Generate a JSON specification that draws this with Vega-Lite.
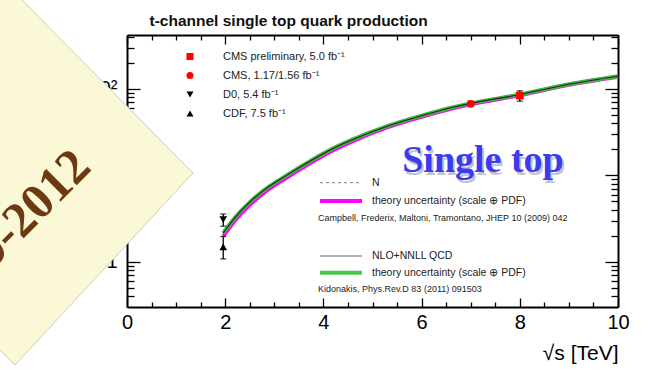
{
  "$schema": "https://vega.github.io/schema/vega-lite/v6.json",
  "width": 491,
  "height": 272,
  "autosize": {"type": "none"},
  "padding": {"left": 127, "top": 35, "right": 40, "bottom": 73},
  "background": "white",
  "config": {
    "view": {"stroke": null},
    "font": "Liberation Sans",
    "axis": {"domainColor": "#000", "domainWidth": 2, "tickColor": "#000", "tickWidth": 1.3, "grid": false, "labelColor": "#000"},
    "legend": {"orient": "none", "legendX": 57.5, "legendY": 16, "padding": 0, "labelFontSize": 11, "labelColor": "#222", "labelFont": "Liberation Sans", "rowPadding": 7, "symbolSize": 49, "labelOffset": 27.5, "labelLimit": 300}
  },
  "datasets": {
    "curve": [
      {"x": 1.96, "campbell": 1.98, "kidonakis": 2.15},
      {"x": 2.2, "campbell": 3.0, "kidonakis": 3.25},
      {"x": 2.5, "campbell": 4.55, "kidonakis": 4.9},
      {"x": 2.8, "campbell": 6.35, "kidonakis": 6.8},
      {"x": 3.2, "campbell": 9.0, "kidonakis": 9.6},
      {"x": 3.7, "campbell": 13.5, "kidonakis": 14.3},
      {"x": 4.2, "campbell": 19.5, "kidonakis": 20.5},
      {"x": 4.6, "campbell": 24.9, "kidonakis": 26},
      {"x": 5.3, "campbell": 35.8, "kidonakis": 37},
      {"x": 6.0, "campbell": 47.6, "kidonakis": 49},
      {"x": 6.6, "campbell": 59, "kidonakis": 60.5},
      {"x": 7.0, "campbell": 66.3, "kidonakis": 68},
      {"x": 8.0, "campbell": 84.5, "kidonakis": 86},
      {"x": 9.0, "campbell": 111.5, "kidonakis": 113},
      {"x": 10.0, "campbell": 138, "kidonakis": 140}
    ],
    "points": [
      {"exp": "CMS preliminary, 5.0 fb⁻¹", "x": 8, "y": 83.6, "lo": 72, "hi": 95},
      {"exp": "CMS, 1.17/1.56 fb⁻¹", "x": 7, "y": 67.2, "lo": 63, "hi": 72},
      {"exp": "D0, 5.4 fb⁻¹", "x": 1.96, "y": 3.07, "lo": 2.58, "hi": 3.57},
      {"exp": "CDF, 7.5 fb⁻¹", "x": 1.96, "y": 1.49, "lo": 1.08, "hi": 1.96}
    ],
    "legendLines": [
      {"item": "nlo", "x": 3.931, "x2": 4.786, "y": 8.22},
      {"item": "band1", "x": 3.931, "x2": 4.786, "y": 5.05},
      {"item": "nnll", "x": 3.931, "x2": 4.786, "y": 1.167},
      {"item": "band2", "x": 3.931, "x2": 4.786, "y": 0.748}
    ],
    "legendLabels": [
      {"x": 4.99, "y": 8.22, "text": "NLO QCD"},
      {"x": 4.99, "y": 5.05, "text": "theory uncertainty (scale  ⊕ PDF)"},
      {"x": 4.99, "y": 1.167, "text": "NLO+NNLL QCD"},
      {"x": 4.99, "y": 0.748, "text": "theory uncertainty (scale  ⊕ PDF)"}
    ],
    "cites": [
      {"x": 3.89, "y": 3.21, "text": "Campbell, Frederix, Maltoni, Tramontano, JHEP 10 (2009) 042"},
      {"x": 3.89, "y": 0.485, "text": "Kidonakis, Phys.Rev.D 83 (2011) 091503"}
    ],
    "box": [{"x": 5.153, "x2": 9.1, "y": 6.6, "y2": 25.6}],
    "banner": [{"x": 7.25, "y": 10.93, "text": "Single top"}],
    "note": [
      {"x": -2.79, "top": 1393, "bottom": 0.1246},
      {"x": -2.342, "top": 1393, "bottom": 0.0694},
      {"x": -2.281, "top": 1285, "bottom": 0.064},
      {"x": 1.344, "top": 10.64, "bottom": 10.64}
    ],
    "noteText": [{"x": -0.692, "y": 11.84, "text": "2009-2012"}]
  },
  "resolve": {"axis": {"x": "independent", "y": "independent"}},
  "layer": [
    {
      "data": {"name": "curve"},
      "mark": {"type": "line", "color": "#ff00ff", "strokeWidth": 4, "interpolate": "monotone"},
      "encoding": {
        "x": {"field": "x", "type": "quantitative", "scale": {"type": "linear", "domain": [0, 10], "nice": false, "zero": false},
              "axis": {"orient": "bottom", "values": [0, 2, 4, 6, 8, 10], "tickSize": -9, "labels": false, "domain": true, "title": null}},
        "y": {"field": "campbell", "type": "quantitative", "scale": {"type": "log", "domain": [0.3, 420], "nice": false},
              "axis": {"orient": "left", "values": [1, 10, 100], "tickSize": -13, "labels": false, "domain": true, "title": null}}
      }
    },
    {
      "data": {"name": "curve"},
      "mark": {"type": "line", "color": "#40b840", "strokeWidth": 4, "interpolate": "monotone"},
      "encoding": {
        "x": {"field": "x", "type": "quantitative", "scale": {"type": "linear", "domain": [0, 10], "nice": false, "zero": false},
              "axis": {"orient": "bottom", "values": [0.5, 1, 1.5, 2.5, 3, 3.5, 4.5, 5, 5.5, 6.5, 7, 7.5, 8.5, 9, 9.5], "tickSize": -5, "labels": false, "domain": false, "title": null}},
        "y": {"field": "kidonakis", "type": "quantitative", "scale": {"type": "log", "domain": [0.3, 420], "nice": false},
              "axis": {"orient": "left", "values": [0.4, 0.5, 0.6, 0.7, 0.8, 0.9, 2, 3, 4, 5, 6, 7, 8, 9, 20, 30, 40, 50, 60, 70, 80, 90, 200, 300, 400], "tickSize": -7, "labels": false, "domain": false, "title": null}}
      }
    },
    {
      "data": {"name": "curve"},
      "mark": {"type": "line", "color": "#222", "strokeWidth": 1.1, "interpolate": "monotone"},
      "encoding": {
        "x": {"field": "x", "type": "quantitative", "scale": {"type": "linear", "domain": [0, 10], "nice": false, "zero": false},
              "axis": {"orient": "bottom", "values": [0, 2, 4, 6, 8, 10], "ticks": false, "domain": false, "labelFontSize": 20, "labelPadding": 5, "labelFlush": false, "labelOverlap": false,
                       "title": "√s [TeV]", "titleFontSize": 21, "titleFontWeight": "normal", "titleX": 491, "titleY": 52, "titleAlign": "right", "titleBaseline": "alphabetic", "titleColor": "#000"}},
        "y": {"field": "kidonakis", "type": "quantitative", "scale": {"type": "log", "domain": [0.3, 420], "nice": false},
              "axis": {"orient": "left", "values": [1, 10, 100], "ticks": false, "domain": false, "labelFontSize": 20, "labelPadding": 10, "labelOverlap": false,
                       "labelExpr": "datum.value == 1 ? '1' : (datum.value == 10 ? '10' : '10²')", "title": null}}
      }
    },
    {
      "data": {"name": "points"},
      "mark": {"type": "rule", "color": "#000", "strokeWidth": 1.3},
      "encoding": {
        "x": {"field": "x", "type": "quantitative", "scale": {"type": "linear", "domain": [0, 10], "nice": false, "zero": false},
              "axis": {"orient": "top", "values": [0, 2, 4, 6, 8, 10], "tickSize": -9, "labels": false, "domain": true,
                       "title": "t-channel single top quark production", "titleX": 22, "titleY": -10, "titleAlign": "left", "titleAnchor": "start", "titleBaseline": "alphabetic",
                       "titleFontSize": 15.5, "titleFontWeight": "bold", "titleFont": "Liberation Sans", "titleColor": "#111"}},
        "y": {"field": "lo", "type": "quantitative", "scale": {"type": "log", "domain": [0.3, 420], "nice": false},
              "axis": {"orient": "right", "values": [1, 10, 100], "tickSize": -13, "labels": false, "domain": true, "title": null}},
        "y2": {"field": "hi"}
      }
    },
    {
      "data": {"name": "points"},
      "transform": [{"fold": ["lo", "hi"], "as": ["end", "v"]}],
      "mark": {"type": "tick", "orient": "horizontal", "color": "#000", "size": 6, "thickness": 1.3},
      "encoding": {
        "x": {"field": "x", "type": "quantitative", "scale": {"type": "linear", "domain": [0, 10], "nice": false, "zero": false},
              "axis": {"orient": "top", "values": [0.5, 1, 1.5, 2.5, 3, 3.5, 4.5, 5, 5.5, 6.5, 7, 7.5, 8.5, 9, 9.5], "tickSize": -5, "labels": false, "domain": false, "title": null}},
        "y": {"field": "v", "type": "quantitative", "scale": {"type": "log", "domain": [0.3, 420], "nice": false},
              "axis": {"orient": "right", "values": [0.4, 0.5, 0.6, 0.7, 0.8, 0.9, 2, 3, 4, 5, 6, 7, 8, 9, 20, 30, 40, 50, 60, 70, 80, 90, 200, 300, 400], "tickSize": -7, "labels": false, "domain": false, "title": null}}
      }
    },
    {
      "data": {"name": "points"},
      "mark": {"type": "point", "filled": true, "size": 60, "opacity": 1},
      "encoding": {
        "x": {"field": "x", "type": "quantitative", "scale": {"type": "linear", "domain": [0, 10], "nice": false, "zero": false}, "axis": null},
        "y": {"field": "y", "type": "quantitative", "scale": {"type": "log", "domain": [0.3, 420], "nice": false}, "axis": null},
        "color": {"field": "exp", "type": "nominal", "title": null,
                  "scale": {"domain": ["CMS preliminary, 5.0 fb⁻¹", "CMS, 1.17/1.56 fb⁻¹", "D0, 5.4 fb⁻¹", "CDF, 7.5 fb⁻¹"], "range": ["#ff0000", "#ff0000", "#000000", "#000000"]}},
        "shape": {"field": "exp", "type": "nominal", "title": null,
                  "scale": {"domain": ["CMS preliminary, 5.0 fb⁻¹", "CMS, 1.17/1.56 fb⁻¹", "D0, 5.4 fb⁻¹", "CDF, 7.5 fb⁻¹"], "range": ["square", "circle", "triangle-down", "triangle-up"]}}
      }
    },
    {
      "data": {"name": "legendLines"},
      "transform": [{"filter": "datum.item == 'nlo'"}],
      "mark": {"type": "rule", "color": "#999", "strokeWidth": 1.3, "strokeDash": [3, 3]},
      "encoding": {
        "x": {"field": "x", "type": "quantitative", "scale": {"type": "linear", "domain": [0, 10], "nice": false, "zero": false}, "axis": null},
        "x2": {"field": "x2"},
        "y": {"field": "y", "type": "quantitative", "scale": {"type": "log", "domain": [0.3, 420], "nice": false}, "axis": null}
      }
    },
    {
      "data": {"name": "legendLines"},
      "transform": [{"filter": "datum.item == 'band1'"}],
      "mark": {"type": "rule", "color": "#ff00ff", "strokeWidth": 4},
      "encoding": {
        "x": {"field": "x", "type": "quantitative", "scale": {"type": "linear", "domain": [0, 10], "nice": false, "zero": false}, "axis": null},
        "x2": {"field": "x2"},
        "y": {"field": "y", "type": "quantitative", "scale": {"type": "log", "domain": [0.3, 420], "nice": false}, "axis": null}
      }
    },
    {
      "data": {"name": "legendLines"},
      "transform": [{"filter": "datum.item == 'nnll'"}],
      "mark": {"type": "rule", "color": "#999", "strokeWidth": 1.5},
      "encoding": {
        "x": {"field": "x", "type": "quantitative", "scale": {"type": "linear", "domain": [0, 10], "nice": false, "zero": false}, "axis": null},
        "x2": {"field": "x2"},
        "y": {"field": "y", "type": "quantitative", "scale": {"type": "log", "domain": [0.3, 420], "nice": false}, "axis": null}
      }
    },
    {
      "data": {"name": "legendLines"},
      "transform": [{"filter": "datum.item == 'band2'"}],
      "mark": {"type": "rule", "color": "#4cc84c", "strokeWidth": 4},
      "encoding": {
        "x": {"field": "x", "type": "quantitative", "scale": {"type": "linear", "domain": [0, 10], "nice": false, "zero": false}, "axis": null},
        "x2": {"field": "x2"},
        "y": {"field": "y", "type": "quantitative", "scale": {"type": "log", "domain": [0.3, 420], "nice": false}, "axis": null}
      }
    },
    {
      "data": {"name": "legendLabels"},
      "mark": {"type": "text", "align": "left", "baseline": "middle", "fontSize": 10.5, "font": "Liberation Sans", "color": "#222"},
      "encoding": {
        "x": {"field": "x", "type": "quantitative", "scale": {"type": "linear", "domain": [0, 10], "nice": false, "zero": false}, "axis": null},
        "y": {"field": "y", "type": "quantitative", "scale": {"type": "log", "domain": [0.3, 420], "nice": false}, "axis": null},
        "text": {"field": "text"}
      }
    },
    {
      "data": {"name": "cites"},
      "mark": {"type": "text", "align": "left", "baseline": "middle", "fontSize": 9, "font": "Liberation Sans", "color": "#222"},
      "encoding": {
        "x": {"field": "x", "type": "quantitative", "scale": {"type": "linear", "domain": [0, 10], "nice": false, "zero": false}, "axis": null},
        "y": {"field": "y", "type": "quantitative", "scale": {"type": "log", "domain": [0.3, 420], "nice": false}, "axis": null},
        "text": {"field": "text"}
      }
    },
    {
      "data": {"name": "box"},
      "mark": {"type": "rect", "color": "#ffffff"},
      "encoding": {
        "x": {"field": "x", "type": "quantitative", "scale": {"type": "linear", "domain": [0, 10], "nice": false, "zero": false}, "axis": null},
        "x2": {"field": "x2"},
        "y": {"field": "y", "type": "quantitative", "scale": {"type": "log", "domain": [0.3, 420], "nice": false}, "axis": null},
        "y2": {"field": "y2"}
      }
    },
    {
      "data": {"name": "banner"},
      "mark": {"type": "text", "align": "center", "baseline": "alphabetic", "fontSize": 38, "font": "Liberation Serif", "fontWeight": "bold", "color": "#8a8a9a", "opacity": 0.5, "dx": 2, "dy": 3},
      "encoding": {
        "x": {"field": "x", "type": "quantitative", "scale": {"type": "linear", "domain": [0, 10], "nice": false, "zero": false}, "axis": null},
        "y": {"field": "y", "type": "quantitative", "scale": {"type": "log", "domain": [0.3, 420], "nice": false}, "axis": null},
        "text": {"field": "text"}
      }
    },
    {
      "data": {"name": "banner"},
      "mark": {"type": "text", "align": "center", "baseline": "alphabetic", "fontSize": 38, "font": "Liberation Serif", "fontWeight": "bold", "color": "#3b3bef"},
      "encoding": {
        "x": {"field": "x", "type": "quantitative", "scale": {"type": "linear", "domain": [0, 10], "nice": false, "zero": false}, "axis": null},
        "y": {"field": "y", "type": "quantitative", "scale": {"type": "log", "domain": [0.3, 420], "nice": false}, "axis": null},
        "text": {"field": "text"}
      }
    },
    {
      "data": {"name": "note"},
      "mark": {"type": "area", "orient": "vertical", "color": "#faf8d6", "opacity": 1, "stroke": "#cfcdb8", "strokeWidth": 1},
      "encoding": {
        "x": {"field": "x", "type": "quantitative", "scale": {"type": "linear", "domain": [0, 10], "nice": false, "zero": false}, "axis": null},
        "y": {"field": "top", "type": "quantitative", "scale": {"type": "log", "domain": [0.3, 420], "nice": false}, "axis": null},
        "y2": {"field": "bottom"}
      }
    },
    {
      "data": {"name": "noteText"},
      "mark": {"type": "text", "align": "right", "baseline": "alphabetic", "angle": -45, "fontSize": 50, "font": "Liberation Serif", "fontWeight": "bold", "color": "#6b3a10"},
      "encoding": {
        "x": {"field": "x", "type": "quantitative", "scale": {"type": "linear", "domain": [0, 10], "nice": false, "zero": false}, "axis": null},
        "y": {"field": "y", "type": "quantitative", "scale": {"type": "log", "domain": [0.3, 420], "nice": false}, "axis": null},
        "text": {"field": "text"}
      }
    }
  ]
}
